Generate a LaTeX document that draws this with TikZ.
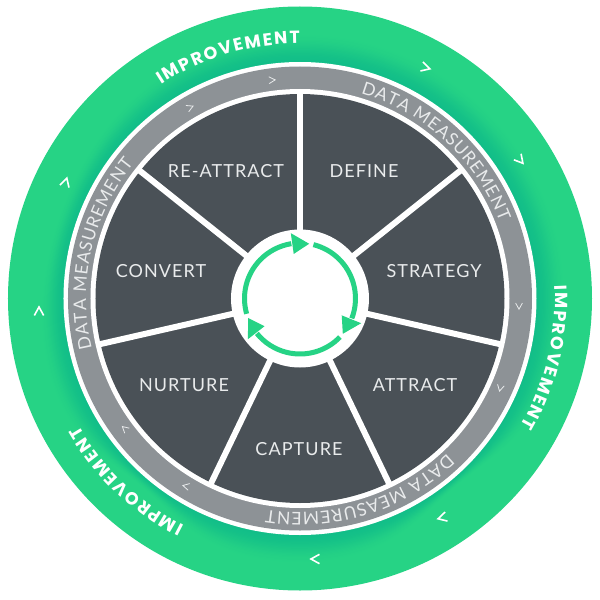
\documentclass[tikz,border=0pt]{standalone}
\usepackage{fontspec}
\usetikzlibrary{decorations.text}
\newfontfamily\lblfont[LetterSpace=6]{Lato}
\newfontfamily\dmfontfam{Lato}
\newfontfamily\impfontfam{Poppins}
\newcommand\lblsize{\fontsize{18}{20}\selectfont\lblfont}
\newcommand\dmsize{\fontsize{17.5}{18}\selectfont\dmfontfam}
\newcommand\impsize{\fontsize{17.5}{18}\selectfont\impfontfam\bfseries}
\definecolor{greenl}{HTML}{26D385}
\definecolor{greend}{HTML}{12BE88}
\definecolor{slate}{HTML}{4A5157}
\definecolor{ringgray}{HTML}{8D9296}
\definecolor{txt}{HTML}{E9EBEC}
\tikzset{
  lbl/.style={text=txt,font=\lblsize,inner sep=0pt,anchor=center},
  spoke/.style={draw=white,line width=6pt},
  chevout/.style={draw=white,line width=1.6pt,line join=miter},
  chevin/.style={draw=txt,line width=0.8pt,line join=miter},
  cyc/.style={draw=greenl,line width=5pt},
  dmtext/.style={decorate,decoration={text along path,text align={fit to path},text={|\dmsize\color{txt}|DATA MEASUREMENT}}},
  imptext/.style={decorate,decoration={text along path,text align={fit to path},text={|\impsize\color{white}|IMPROVEMENT}}},
  declare function={
    bandw(\a)=30-22*exp(-((\a+50)/18)^2)-20*exp(-((\a+130)/16)^2)-11*exp(-((\a-160)/30)^2)-11*exp(-((\a+200)/30)^2);
  },
}
\newcommand\chev[5]{% style, x, y (pixel), direction, size
  \begin{scope}[shift={(#2-300,298.5-#3)},rotate=#4]
    \draw[#1] (-#5,#5*0.85) -- (#5*0.55,0) -- (-#5,-#5*0.85);
  \end{scope}}
\newcommand\cycarrow[1]{%
  \begin{scope}[rotate=#1]
    \draw[cyc] (196:55.5) arc[start angle=196,end angle=99,radius=55.5];
    \fill[greenl] (98:45) -- (98:66) -- (80.5:55.5) -- cycle;
  \end{scope}}
\begin{document}
\begin{tikzpicture}[x=1pt,y=1pt]
\useasboundingbox (-300,-301.5) rectangle (300,298.5);
\fill[greenl] (0,0) circle[radius=292];
\foreach \i in {24,...,1}{
  \pgfmathsetmacro\t{\i/24}
  \pgfmathsetmacro\mx{100*\t*\t*(3-2*\t)}
  \fill[greenl!\mx!greend] plot[smooth cycle,domain=-180:175,samples=72,variable=\a] ({\a}:{236+bandw(\a)*\t});
}
\fill[white] (0,0) circle[radius=236.5];
\fill[ringgray] (0,0) circle[radius=232];
\fill[white] (0,0) circle[radius=209.5];
\fill[slate] (0,0) circle[radius=204.5];
\foreach \a in {90,38.57,-12.86,-64.29,-115.71,-167.14,141.43}
  \draw[spoke] (\a:60) -- (\a:207);
\fill[white] (0,0) circle[radius=69];
\cycarrow{0}\cycarrow{-120}\cycarrow{-240}
\foreach \s in {73.5,-46.5,-166.5}{
  \pgfmathsetmacro\e{\s-52.5}
  \path[dmtext] (\s:214) arc[start angle=\s,end angle=\e,radius=214];
}
\foreach \s in {123,3,-117}{
  \pgfmathsetmacro\e{\s-33}
  \path[imptext] (\s:255) arc[start angle=\s,end angle=\e,radius=255];
}
\node[lbl] (define) at (64,127.5) {DEFINE};
\node[lbl] (strategy) at (134,27.5) {STRATEGY};
\node[lbl] (attract) at (115,-86.5) {ATTRACT};
\node[lbl] (capture) at (-1,-150.5) {CAPTURE};
\node[lbl] (nurture) at (-116,-86.5) {NURTURE};
\node[lbl] (convert) at (-139,27.5) {CONVERT};
\node[lbl] (reattract) at (-74,127.5) {RE-ATTRACT};
\chev{chevout}{427}{68}{-16}{5.5}
\chev{chevout}{521}{161}{-50}{5.5}
\chev{chevout}{441}{518}{195}{5.5}
\chev{chevout}{314}{559}{180}{5.5}
\chev{chevout}{39}{310}{90}{5.5}
\chev{chevout}{66}{181}{74}{5.5}
\chev{chevin}{191}{107}{24}{4}
\chev{chevin}{273}{80}{3}{4}
\chev{chevin}{519}{307}{-90}{4}
\chev{chevin}{500}{389}{-103}{4}
\chev{chevin}{124}{428}{138}{4}
\chev{chevin}{185}{486}{167}{4}
\end{tikzpicture}
\end{document}
